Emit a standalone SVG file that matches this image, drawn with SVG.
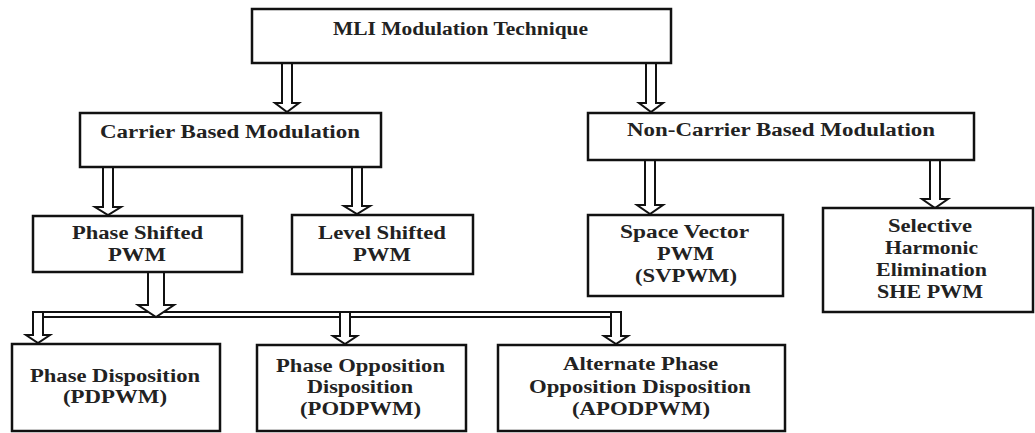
<svg xmlns="http://www.w3.org/2000/svg" width="1035" height="433" viewBox="0 0 1035 433">
<style>
.box{fill:#fff;stroke:#111;stroke-width:2.5}
.t{font-family:'Liberation Serif','Times New Roman',Times,serif;font-weight:700;font-size:18px;fill:#222;text-anchor:middle}
.arr{fill:#fff;stroke:#111;stroke-width:2;stroke-linejoin:miter}
.bus{stroke:#111;stroke-width:2;fill:none}
</style>
<rect width="1035" height="433" fill="#fff"/>
<g id="connectors">
<line class="bus" x1="33" y1="312" x2="621" y2="312"/>
<line class="bus" x1="33" y1="317" x2="621" y2="317"/>
<path class="arr" d="M282,63 L282,103 L275,103 L287,112 L299,103 L292,103 L292,63 Z"/>
<path class="arr" d="M646,63 L646,103 L639,103 L651,112 L663,103 L656,103 L656,63 Z"/>
<path class="arr" d="M103,167 L103,207 L95,207 L108,215 L121,207 L113,207 L113,167 Z"/>
<path class="arr" d="M352,167 L352,206 L344,206 L357,214 L370,206 L362,206 L362,167 Z"/>
<path class="arr" d="M645,160 L645,205 L637,205 L650,214 L663,205 L655,205 L655,160 Z"/>
<path class="arr" d="M930,160 L930,199 L922,199 L935,208 L948,199 L940,199 L940,160 Z"/>
<path class="arr" d="M148,272 L148,305 L138,305 L156,317 L174,305 L164,305 L164,272 Z"/>
<path class="arr" d="M33,312 L33,335 L26,335 L38,343 L50,335 L43,335 L43,312 Z"/>
<path class="arr" d="M340,312 L340,336 L333,336 L345,344 L357,336 L350,336 L350,312 Z"/>
<path class="arr" d="M611,312 L611,336 L604,336 L616,344 L628,336 L621,336 L621,312 Z"/>
</g>
<g id="mli">
<rect class="box" x="252" y="9" width="419" height="54"/>
<text class="t" x="460.5" y="35" font-size="16" textLength="255" lengthAdjust="spacingAndGlyphs">MLI Modulation Technique</text>
</g>
<g id="carrier">
<rect class="box" x="80" y="113" width="301" height="54"/>
<text class="t" x="230" y="138" textLength="260" lengthAdjust="spacingAndGlyphs">Carrier Based Modulation</text>
</g>
<g id="noncarrier">
<rect class="box" x="588" y="113" width="386" height="47"/>
<text class="t" x="781" y="136" textLength="308" lengthAdjust="spacingAndGlyphs">Non-Carrier Based Modulation</text>
</g>
<g id="phaseshifted">
<rect class="box" x="33" y="216" width="209" height="56"/>
<text class="t" x="137.5" y="239" textLength="131" lengthAdjust="spacingAndGlyphs">Phase Shifted</text>
<text class="t" x="137" y="261" textLength="58" lengthAdjust="spacingAndGlyphs">PWM</text>
</g>
<g id="levelshifted">
<rect class="box" x="292" y="215" width="181" height="59"/>
<text class="t" x="382" y="239" textLength="128" lengthAdjust="spacingAndGlyphs">Level Shifted</text>
<text class="t" x="382" y="261" textLength="58" lengthAdjust="spacingAndGlyphs">PWM</text>
</g>
<g id="svpwm">
<rect class="box" x="588" y="215" width="195" height="81"/>
<text class="t" x="684.5" y="238" textLength="129" lengthAdjust="spacingAndGlyphs">Space Vector</text>
<text class="t" x="685.5" y="260" textLength="57" lengthAdjust="spacingAndGlyphs">PWM</text>
<text class="t" x="686" y="282" textLength="102" lengthAdjust="spacingAndGlyphs">(SVPWM)</text>
</g>
<g id="she">
<rect class="box" x="823" y="208" width="210" height="104"/>
<text class="t" x="930" y="232" textLength="84" lengthAdjust="spacingAndGlyphs">Selective</text>
<text class="t" x="931.5" y="254" textLength="93" lengthAdjust="spacingAndGlyphs">Harmonic</text>
<text class="t" x="931.5" y="276" textLength="111" lengthAdjust="spacingAndGlyphs">Elimination</text>
<text class="t" x="930" y="298" textLength="106" lengthAdjust="spacingAndGlyphs">SHE PWM</text>
</g>
<g id="pd">
<rect class="box" x="12" y="344" width="208" height="87"/>
<text class="t" x="115" y="382" textLength="170" lengthAdjust="spacingAndGlyphs">Phase Disposition</text>
<text class="t" x="115" y="403" textLength="104" lengthAdjust="spacingAndGlyphs">(PDPWM)</text>
</g>
<g id="pod">
<rect class="box" x="257" y="345" width="209" height="86"/>
<text class="t" x="360.5" y="372" textLength="169" lengthAdjust="spacingAndGlyphs">Phase Opposition</text>
<text class="t" x="360" y="393" textLength="106" lengthAdjust="spacingAndGlyphs">Disposition</text>
<text class="t" x="360.5" y="415" textLength="121" lengthAdjust="spacingAndGlyphs">(PODPWM)</text>
</g>
<g id="apod">
<rect class="box" x="498" y="345" width="287" height="86"/>
<text class="t" x="640.5" y="370" textLength="155" lengthAdjust="spacingAndGlyphs">Alternate Phase</text>
<text class="t" x="640" y="393" textLength="222" lengthAdjust="spacingAndGlyphs">Opposition Disposition</text>
<text class="t" x="641" y="415" textLength="138" lengthAdjust="spacingAndGlyphs">(APODPWM)</text>
</g>
</svg>
